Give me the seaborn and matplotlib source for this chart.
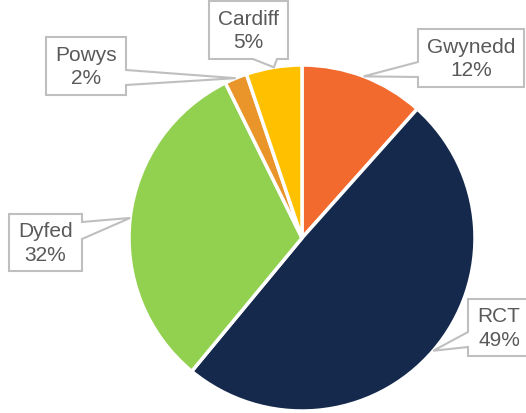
import numpy as np
import seaborn as sns
import matplotlib.pyplot as plt
from matplotlib.patches import Polygon

# data
regions = ["Gwynedd", "RCT", "Dyfed", "Powys", "Cardiff"]
shares = [11.6, 49.4, 31.7, 2.1, 5.2]
pct_labels = ["12%", "49%", "32%", "2%", "5%"]
colors = ["#F26A2D", "#14294B", "#92D050", "#E9952A", "#FFC000"]

# callout layout, in image pixels: (left, top, right, bottom), pointer side, base span along side
W, H = 526, 414
CX, CY, R = 302, 239, 173
boxes = {
    "Gwynedd": ((418, 30, 524, 88), "left", (63, 78)),
    "RCT": ((468, 300, 530, 357), "left", (333, 348)),
    "Dyfed": ((9, 215, 82, 272), "right", (223, 240)),
    "Powys": ((46, 38, 126, 96), "right", (71, 86)),
    "Cardiff": ((209, 2, 288, 60), "bottom", (253, 277)),
}

sns.set_theme(style="white")
plt.rcParams["font.family"] = ["Liberation Sans", "DejaVu Sans"]

fig = plt.figure(figsize=(W / 100, H / 100), dpi=100)
ax = fig.add_axes([0, 0, 1, 1])

ax.pie(shares, colors=colors, startangle=90, counterclock=False, radius=1,
       wedgeprops=dict(edgecolor="white", linewidth=2.5))

ax.set_xlim(-CX / R, (W - CX) / R)
ax.set_ylim(-(H - CY) / R, CY / R)
ax.set_aspect("equal")
ax.axis("off")


def px(x, y):
    return ((x - CX) / R, (CY - y) / R)


cum = np.cumsum([0] + shares[:-1])
for name, start, val, pct in zip(regions, cum, shares, pct_labels):
    mid = np.deg2rad(90 - (start + val / 2) * 3.6)
    tip = (np.cos(mid), np.sin(mid))
    (l, t, r, b), side, (s0, s1) = boxes[name]
    if side == "left":
        pts = [px(l, t), px(r, t), px(r, b), px(l, b), px(l, s1), tip, px(l, s0)]
    elif side == "right":
        pts = [px(l, t), px(r, t), px(r, s0), tip, px(r, s1), px(r, b), px(l, b)]
    else:
        pts = [px(l, t), px(r, t), px(r, b), px(s1, b), tip, px(s0, b), px(l, b)]
    ax.add_patch(Polygon(pts, closed=True, facecolor="white", edgecolor="#BFBFBF",
                         linewidth=1.5, zorder=3, clip_on=False))
    cx, cy = px((l + r) / 2, (t + b) / 2)
    ax.text(cx, cy, f"{name}\n{pct}", ha="center", va="center", fontsize=15,
            color="#595959", linespacing=1.3, zorder=4)

fig.savefig("out.png", dpi=100)
